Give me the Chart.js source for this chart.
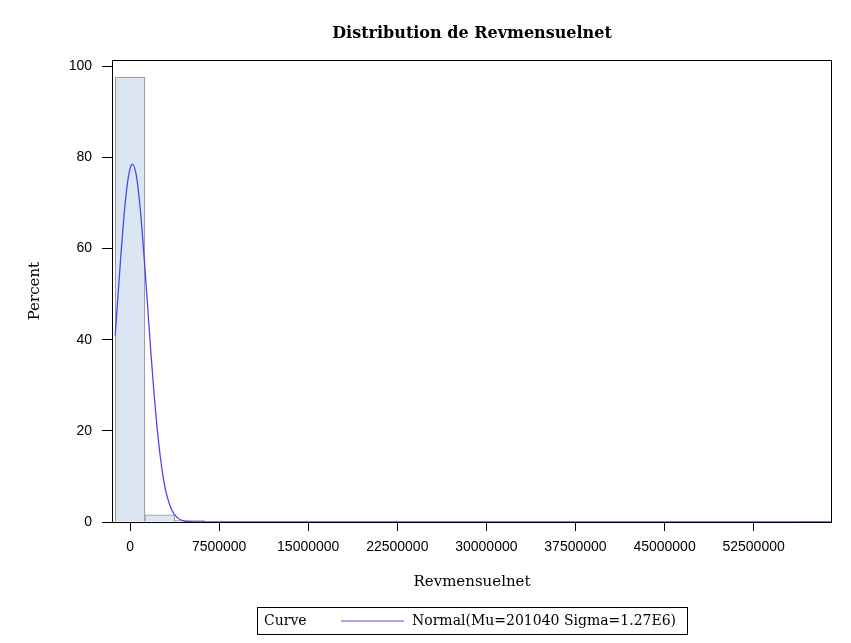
<!DOCTYPE html>
<html>
<head>
<meta charset="utf-8">
<title>Distribution de Revmensuelnet</title>
<script src="https://cdn.jsdelivr.net/npm/chart.js@4.4.1/dist/chart.umd.min.js"></script>
<style>
  html, body { margin: 0; padding: 0; background: #fff; }
  #wrap { width: 851px; height: 643px; }
</style>
</head>
<body>
<div id="wrap"><canvas id="chart" width="851" height="643"></canvas></div>
<script>
// histogram bins (midpoints) and percent of obs
const binMids = [0, 2500000, 5000000, 57500000];
const binPct = [97.6, 1.6, 0.35, 0.02];

// fitted normal curve (percent scale)
const curveX = [-1250000, -1000000, -750000, -500000, -250000, 0, 200000, 500000, 750000, 1000000,
  1250000, 1500000, 1750000, 2000000, 2250000, 2500000, 2750000, 3000000, 3500000, 4000000,
  4500000, 5000000, 6000000, 59000000];
const curvePct = [40.9, 50.2, 59.3, 67.4, 73.7, 77.5, 78.5, 76.4, 71.5, 64.4,
  55.8, 46.5, 37.3, 28.8, 21.4, 15.3, 10.5, 6.9, 2.7, 0.9,
  0.26, 0.06, 0, 0];

const xTicks = [0, 7500000, 15000000, 22500000, 30000000, 37500000, 45000000, 52500000];
const yTicks = [0, 20, 40, 60, 80, 100];

const curveLabel = 'Normal(Mu=201040 Sigma=1.27E6)';

const serif = '"DejaVu Serif", "Liberation Serif", serif';
const sans = '"Liberation Sans", Arial, sans-serif';

// title centred over the plot area, not the whole canvas
const centreTitle = {
  id: 'centreTitle',
  afterLayout(chart) {
    const t = chart.titleBlock;
    if (t) {
      t.left = chart.chartArea.left;
      t.right = chart.chartArea.right;
    }
  }
};

// box round the plot area
const frame = {
  id: 'frame',
  afterDatasetsDraw(chart) {
    const a = chart.chartArea;
    const ctx = chart.ctx;
    ctx.save();
    ctx.strokeStyle = '#000';
    ctx.lineWidth = 1;
    ctx.strokeRect(Math.round(a.left) + 0.5, Math.round(a.top) + 0.5,
      Math.round(a.right - a.left) - 1, Math.round(a.bottom - a.top));
    ctx.restore();
  }
};

// SAS style legend: "Curve  ----  Normal(...)" in a box
const sasLegend = {
  id: 'sasLegend',
  afterDraw(chart) {
    const ctx = chart.ctx;
    const ds = chart.data.datasets[1];
    const y = 621;
    ctx.save();
    ctx.strokeStyle = '#000';
    ctx.lineWidth = 1;
    ctx.strokeRect(257.5, 607.5, 430, 27);
    ctx.fillStyle = '#000';
    ctx.font = '14px ' + serif;
    ctx.textBaseline = 'middle';
    ctx.fillText('Curve', 264, y);
    ctx.strokeStyle = ds.borderColor;
    ctx.lineWidth = 1.2;
    ctx.beginPath();
    ctx.moveTo(341, y);
    ctx.lineTo(404, y);
    ctx.stroke();
    ctx.fillText(ds.label, 412, y);
    ctx.restore();
  }
};

new Chart(document.getElementById('chart'), {
  type: 'bar',
  data: {
    datasets: [
      {
        type: 'bar',
        label: 'Percent',
        data: binMids.map((m, i) => ({ x: m, y: binPct[i] })),
        backgroundColor: '#dce6f2',
        borderColor: '#8e8e8e',
        borderWidth: 1,
        borderSkipped: 'bottom',
        barPercentage: 1,
        categoryPercentage: 1,
        order: 2
      },
      {
        type: 'line',
        label: curveLabel,
        data: curveX.map((v, i) => ({ x: v, y: curvePct[i] })),
        borderColor: '#4848f0',
        borderWidth: 1.3,
        pointRadius: 0,
        fill: false,
        cubicInterpolationMode: 'monotone',
        order: 1
      }
    ]
  },
  options: {
    responsive: false,
    animation: false,
    layout: { padding: { left: 0, right: 19, top: 0, bottom: 46 } },
    plugins: {
      legend: { display: false },
      tooltip: { enabled: false },
      title: {
        display: true,
        text: 'Distribution de Revmensuelnet',
        color: '#000',
        font: { family: serif, size: 16, weight: 'bold' },
        padding: { top: 24, bottom: 17 }
      }
    },
    scales: {
      x: {
        type: 'linear',
        offset: false,
        min: -1520000,
        max: 59100000,
        afterBuildTicks: s => { s.ticks = xTicks.map(v => ({ value: v })); },
        afterFit: s => { s.height = 75; },
        grid: { offset: false, drawOnChartArea: false, drawTicks: true, tickLength: 9, color: '#000' },
        border: { display: false },
        ticks: {
          color: '#000',
          font: { family: sans, size: 14 },
          padding: 8,
          maxRotation: 0,
          autoSkip: false,
          callback: v => String(v)
        },
        title: {
          display: true,
          text: 'Revmensuelnet',
          color: '#000',
          font: { family: serif, size: 15 },
          padding: { top: 0, bottom: 6 }
        }
      },
      y: {
        min: 0,
        max: 101.3,
        afterBuildTicks: s => { s.ticks = yTicks.map(v => ({ value: v })); },
        afterFit: s => { s.width = 112; },
        grid: { drawOnChartArea: false, drawTicks: true, tickLength: 10, color: '#000' },
        border: { display: false },
        ticks: {
          color: '#000',
          font: { family: sans, size: 14 },
          padding: 10
        },
        title: {
          display: true,
          text: 'Percent',
          color: '#000',
          font: { family: serif, size: 15 },
          padding: { top: 26, bottom: 0 }
        }
      }
    }
  },
  plugins: [centreTitle, frame, sasLegend]
});
</script>
</body>
</html>
